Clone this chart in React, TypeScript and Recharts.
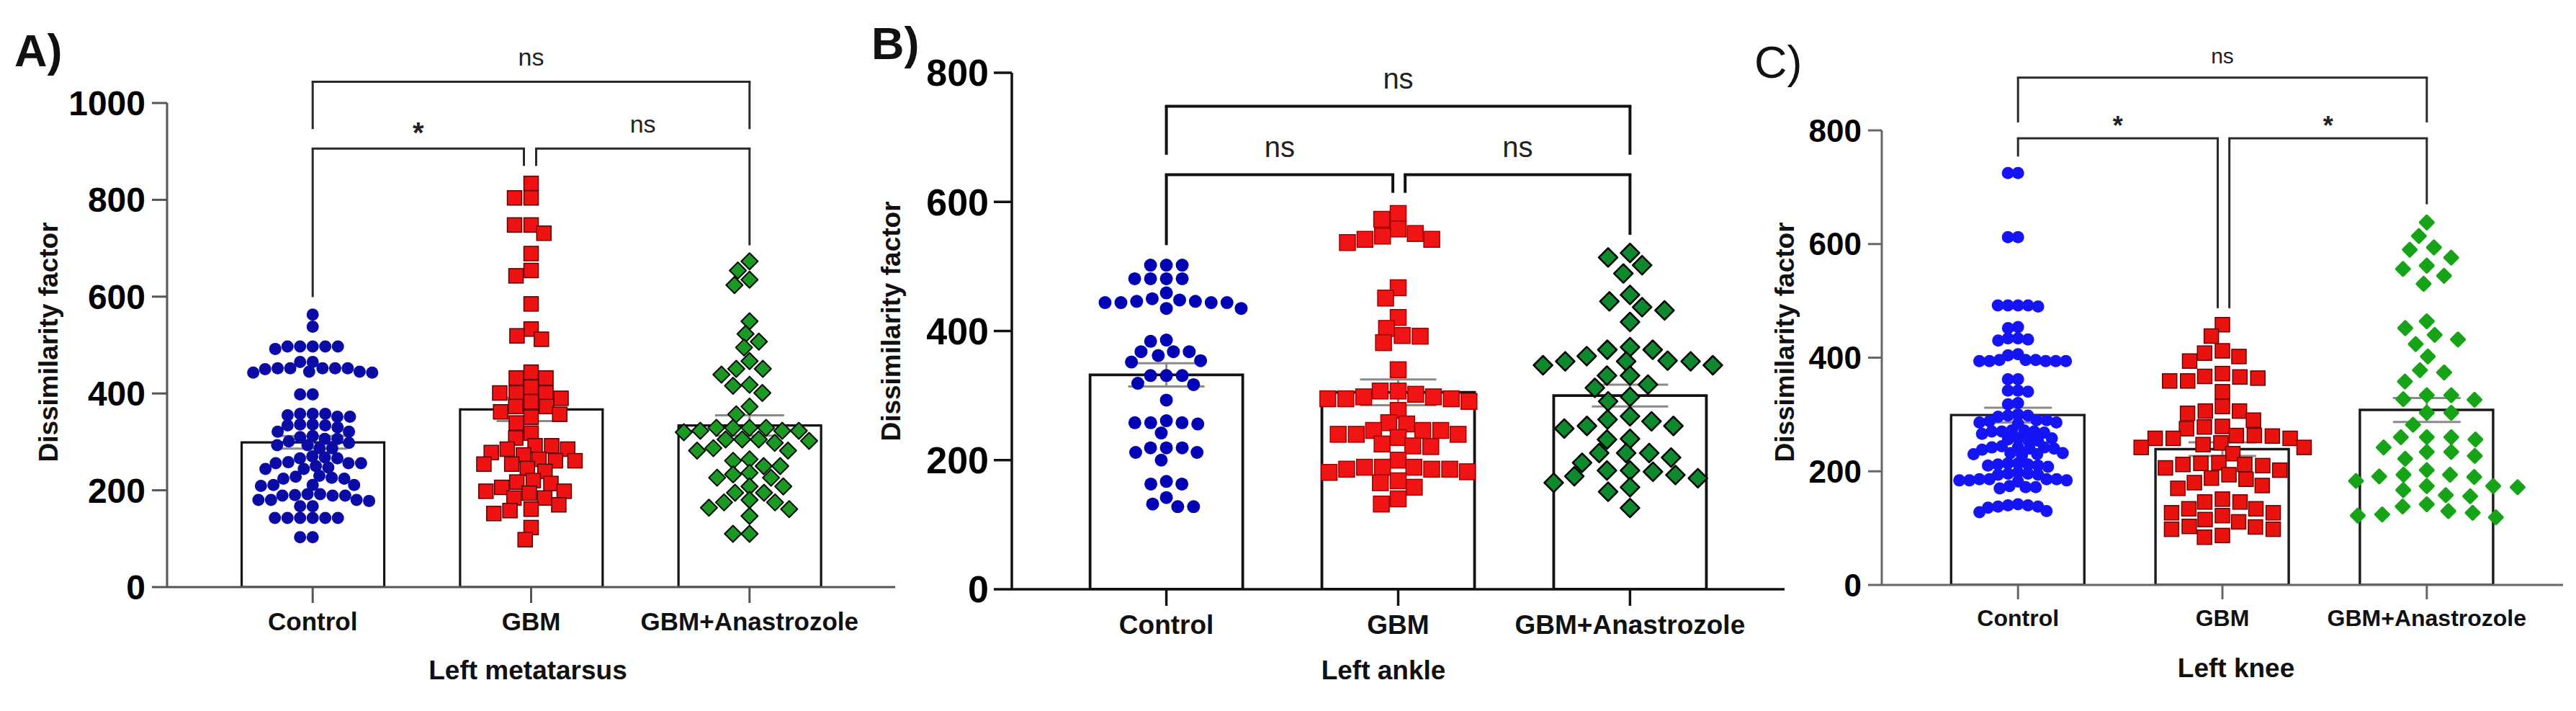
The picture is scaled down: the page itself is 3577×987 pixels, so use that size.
import React from "react"
import { ComposedChart, Bar, Scatter, XAxis, YAxis, ReferenceLine, ErrorBar } from "recharts"

const GROUPS = ["Control", "GBM", "GBM+Anastrozole"]

// A) Left metatarsus
const A_CONTROL = [563, 538, 497, 497, 497, 497, 492, 497, 465, 465, 452, 443, 452, 450, 452, 445, 452, 443, 452, 445, 398, 398, 358, 352, 355, 352, 358, 358, 336, 336, 334, 334, 330, 321, 321, 306, 306, 310, 312, 301, 293, 287, 298, 293, 287, 266, 270, 268, 266, 256, 256, 256, 258, 247, 244, 244, 250, 224, 226, 224, 228, 230, 211, 209, 211, 211, 189, 192, 189, 190, 192, 189, 180, 178, 180, 180, 167, 167, 143, 143, 143, 143, 143, 143, 103, 103]
const A_GBM = [834, 804, 804, 748, 748, 731, 689, 654, 643, 585, 533, 519, 512, 444, 432, 432, 413, 401, 401, 401, 390, 383, 373, 373, 362, 357, 351, 339, 318, 308, 292, 292, 285, 285, 278, 273, 264, 261, 261, 254, 254, 245, 239, 220, 217, 214, 206, 198, 198, 194, 184, 184, 170, 161, 158, 152, 123, 98]
const A_ANA = [673, 654, 635, 624, 549, 523, 507, 495, 467, 451, 451, 439, 418, 416, 401, 373, 357, 329, 329, 323, 323, 329, 323, 329, 320, 305, 305, 302, 305, 298, 287, 282, 282, 264, 261, 250, 250, 236, 233, 226, 226, 208, 208, 195, 195, 180, 175, 175, 164, 161, 147, 110, 110]
const A_MEANS = [299, 367, 334]
const A_SEMS = [13, 24, 21]
const A_TICKS = [0, 200, 400, 600, 800, 1000]

// B) Left ankle
const B_CONTROL = [502, 502, 502, 481, 481, 481, 481, 444, 448, 459, 435, 446, 444, 435, 450, 446, 444, 444, 386, 384, 368, 362, 368, 368, 354, 352, 331, 331, 331, 319, 317, 293, 261, 256, 258, 258, 258, 242, 219, 212, 212, 219, 219, 200, 163, 163, 167, 142, 128, 128, 132]
const B_GBM = [582, 573, 558, 551, 547, 542, 537, 542, 467, 451, 421, 393, 392, 404, 382, 340, 307, 298, 295, 291, 295, 302, 295, 298, 307, 277, 258, 256, 246, 246, 246, 240, 235, 240, 240, 222, 221, 225, 186, 186, 181, 182, 200, 189, 186, 189, 189, 168, 165, 158, 140, 132]
const B_ANA = [521, 514, 502, 489, 456, 446, 432, 437, 414, 371, 375, 371, 353, 347, 353, 353, 361, 347, 354, 331, 331, 317, 312, 298, 291, 268, 260, 263, 253, 253, 249, 233, 232, 211, 211, 211, 196, 204, 175, 182, 184, 184, 165, 172, 177, 158, 151, 126]
const B_MEANS = [332, 305, 300]
const B_SEMS = [18, 20, 17]
const B_TICKS = [0, 200, 400, 600, 800]

// C) Left knee
const C_CONTROL = [725, 725, 612, 612, 492, 492, 492, 492, 490, 454, 452, 434, 432, 430, 434, 406, 404, 396, 394, 394, 396, 394, 394, 396, 394, 362, 362, 342, 342, 340, 320, 318, 300, 298, 298, 296, 290, 290, 288, 286, 286, 284, 272, 270, 270, 268, 270, 272, 266, 258, 256, 255, 258, 254, 244, 242, 240, 242, 240, 238, 242, 232, 230, 228, 232, 230, 214, 212, 210, 210, 208, 212, 214, 198, 196, 194, 196, 194, 186, 186, 184, 186, 184, 186, 184, 182, 174, 172, 172, 170, 142, 140, 138, 138, 140, 136, 130, 128]
const C_GBM = [458, 438, 402, 408, 412, 394, 372, 367, 359, 366, 359, 364, 340, 306, 314, 302, 306, 290, 279, 278, 275, 258, 262, 263, 263, 258, 250, 258, 231, 242, 242, 247, 214, 215, 212, 212, 206, 210, 202, 194, 186, 188, 180, 170, 175, 151, 146, 146, 134, 134, 127, 127, 111, 122, 115, 98, 103, 98, 102, 87, 84]
const C_ANA = [638, 614, 594, 590, 576, 556, 562, 544, 530, 464, 452, 440, 432, 424, 402, 378, 374, 358, 326, 334, 334, 327, 303, 303, 282, 256, 260, 260, 242, 260, 234, 234, 227, 222, 202, 194, 194, 190, 191, 183, 172, 174, 174, 167, 156, 158, 138, 130, 142, 122, 124, 119, 127]
const C_MEANS = [299, 239, 308]
const C_SEMS = [13, 12, 21]
const C_TICKS = [0, 200, 400, 600, 800]

// significance brackets: horizontal from..to at y, legs dropping to dl / dr
const A_BRACKETS = [
  { from: 0, to: 2, y: 1044, dl: 946, dr: 946, text: "ns" },
  { from: 0, to: 0.967, y: 906, dl: 599, dr: 870, text: "*" },
  { from: 1.023, to: 2, y: 906, dl: 870, dr: 706, text: "ns" },
]
const B_BRACKETS = [
  { from: 0, to: 2, y: 748, dl: 673, dr: 673, text: "ns" },
  { from: 0, to: 0.977, y: 642, dl: 533, dr: 614, text: "ns" },
  { from: 1.03, to: 2, y: 642, dl: 614, dr: 549, text: "ns" },
]
const C_BRACKETS = [
  { from: 0, to: 2, y: 893, dl: 814, dr: 814, text: "ns" },
  { from: 0, to: 0.977, y: 786, dl: 754, dr: 487, text: "*" },
  { from: 1.034, to: 2, y: 786, dl: 487, dr: 670, text: "*" },
]

const FONT = "'Liberation Sans', Arial, Helvetica, sans-serif"
const NARROW = "'Liberation Sans Narrow', 'Arial Narrow', 'Liberation Sans', Arial, sans-serif"
const H = 987
const X_MIN = -2 / 3
const X_MAX = 8 / 3

// row-like beeswarm: points keep dx apart sideways, and stop pushing each other once dy apart vertically
function swarm(values: number[], cat: number, pxX: number, pxY: number, gap: number[]) {
  const [gx, gy] = gap
  const order = values.map((_, i) => i).sort((a, b) => values[b] - values[a])
  const placed: { x: number; y: number }[] = []
  const out: { x: number; y: number }[] = new Array(values.length)
  for (const i of order) {
    const y = values[i] * pxY
    const blocks: [number, number][] = []
    for (const p of placed) {
      const dy = Math.abs(p.y - y)
      if (dy < gy) {
        const w = gx * Math.sqrt(1 - (dy / gy) * (dy / gy))
        blocks.push([p.x - w, p.x + w])
      }
    }
    const cands = [0]
    blocks.forEach(([a, b]) => cands.push(a, b))
    cands.sort((a, b) => Math.abs(a) - Math.abs(b))
    let x = 0
    for (const c of cands) {
      if (blocks.every(([a, b]) => c <= a + 1e-6 || c >= b - 1e-6)) {
        x = c
        break
      }
    }
    placed.push({ x, y })
    out[i] = { x: cat + x / pxX, y: values[i] }
  }
  return out
}

const circle = (r: number, fill: string) => (p: any) => <circle cx={p.cx} cy={p.cy} r={r} fill={fill} />
const square = (s: number, fill: string, stroke: string) => (p: any) => (
  <rect x={p.cx - s / 2} y={p.cy - s / 2} width={s} height={s} fill={fill} stroke={stroke} strokeWidth={1.5} />
)
const diamond = (h: number, fill: string, stroke: string, sw: number) => (p: any) => (
  <polygon
    points={`${p.cx},${p.cy - h} ${p.cx + h},${p.cy} ${p.cx},${p.cy + h} ${p.cx - h},${p.cy}`}
    fill={fill}
    stroke={stroke}
    strokeWidth={sw}
    strokeLinejoin="round"
  />
)

const PANELS = [
  {
    letter: "A)", letterX: 20, letterY: 92, letterWeight: "bold",
    left: 0, width: 1250, top: 143, right: 7, yWidth: 232, xHeight: 172, yMax: 1000, yTicks: A_TICKS,
    values: [A_CONTROL, A_GBM, A_ANA], means: A_MEANS, sems: A_SEMS, brackets: A_BRACKETS,
    gaps: [[17.5, 14], [23, 18], [23, 18]],
    shapes: [circle(8.5, "#0b0ba6"), square(20, "#ee1212", "#5a0000"), diamond(11.5, "#1a9a22", "#0a0a0a", 2)],
    axis: "#555", axisW: 3, bar: "#141414", barW: 3.2, barSize: 198, capHalf: 48,
    yTick: 48, yTickSize: 21, yTickMargin: 9, xTick: 35, xTickSize: 22, xTickMargin: 13,
    xTitle: "Left metatarsus", xTitleX: 733, xTitleY: 930, yTitleX: 67, yTitleY: 475,
    brStroke: "#2a2a2a", brW: 3, nsSize: 34, nsOffset: 22, starSize: 40, starOffset: 8,
  },
  {
    letter: "B)", letterX: 1210, letterY: 82, letterWeight: "bold",
    left: 1190, width: 1290, top: 101, right: 2, yWidth: 215, xHeight: 169, yMax: 800, yTicks: B_TICKS,
    values: [B_CONTROL, B_GBM, B_ANA], means: B_MEANS, sems: B_SEMS, brackets: B_BRACKETS,
    gaps: [[22, 18], [25, 20], [32, 20]],
    shapes: [circle(9, "#0000b4"), square(22, "#f01414", "#a00000"), diamond(13, "#0e8a2e", "#000", 2.5)],
    axis: "#111", axisW: 3.5, bar: "#111", barW: 3.8, barSize: 212, capHalf: 53,
    yTick: 52, yTickSize: 25, yTickMargin: 7, xTick: 37, xTickSize: 23, xTickMargin: 13,
    xTitle: "Left ankle", xTitleX: 1921, xTitleY: 930, yTitleX: 1237, yTitleY: 446,
    brStroke: "#111", brW: 4, nsSize: 40, nsOffset: 25, starSize: 40, starOffset: 8,
  },
  {
    letter: "C)", letterX: 2436, letterY: 108, letterWeight: "normal",
    left: 2380, width: 1197, top: 181, right: 18, yWidth: 233, xHeight: 175, yMax: 800, yTicks: C_TICKS,
    values: [C_CONTROL, C_GBM, C_ANA], means: C_MEANS, sems: C_SEMS, brackets: C_BRACKETS,
    gaps: [[14, 12], [25, 20], [34, 20]],
    shapes: [circle(8.5, "#1414f5"), square(20, "#e8120f", "#6b0000"), diamond(9, "#17a317", "#17a317", 4)],
    axis: "#666", axisW: 3, bar: "#1a1a1a", barW: 3.4, barSize: 185, capHalf: 47,
    yTick: 44, yTickSize: 19, yTickMargin: 9, xTick: 32, xTickSize: 20, xTickMargin: 14,
    xTitle: "Left knee", xTitleX: 3105, xTitleY: 927, yTitleX: 2478, yTitleY: 475,
    brStroke: "#2a2a2a", brW: 3, nsSize: 30, nsOffset: 20, starSize: 36, starOffset: 5,
  },
]

function Panel({ cfg }: { cfg: any }) {
  const plotW = cfg.width - cfg.right - cfg.yWidth
  const plotH = H - cfg.top - cfg.xHeight
  const pxX = plotW / (X_MAX - X_MIN)
  const pxY = plotH / cfg.yMax
  // category band padding so that band centres line up with 0, 1, 2 on the numeric axis
  const pad = plotW / 20
  const bars = cfg.means.map((m: number, i: number) => ({ name: GROUPS[i], mean: m }))
  const errs = cfg.means.map((m: number, i: number) => ({ x: i, y: m, sem: cfg.sems[i] }))
  const swarms = cfg.values.map((vals: number[], i: number) => swarm(vals, i, pxX, pxY, cfg.gaps[i]))

  const xTitle = () => (
    <text x={cfg.xTitleX - cfg.left} y={cfg.xTitleY} textAnchor="middle" dominantBaseline="central"
      fontSize={37} fontWeight="bold" fontFamily={FONT} fill="#111">
      {cfg.xTitle}
    </text>
  )
  const yTitle = () => {
    const x = cfg.yTitleX - cfg.left
    return (
      <g>
        <text x={cfg.letterX - cfg.left} y={cfg.letterY} fontSize={63} fontWeight={cfg.letterWeight}
          fontFamily={FONT} fill="#111">
          {cfg.letter}
        </text>
        <text x={x} y={cfg.yTitleY} transform={`rotate(-90 ${x} ${cfg.yTitleY})`} textAnchor="middle"
          dominantBaseline="central" fontSize={37} fontWeight="bold" fontFamily={FONT} fill="#111">
          Dissimilarity factor
        </text>
      </g>
    )
  }

  return (
    <div style={{ position: "absolute", left: cfg.left, top: 0 }}>
      <ComposedChart width={cfg.width} height={H} data={bars}
        margin={{ top: cfg.top, right: cfg.right, bottom: 0, left: 0 }}>
        <XAxis xAxisId="cat" type="category" dataKey="name" padding={{ left: pad, right: pad }} interval={0}
          height={cfg.xHeight}
          axisLine={{ stroke: cfg.axis, strokeWidth: cfg.axisW }}
          tickLine={{ stroke: cfg.axis, strokeWidth: cfg.axisW }}
          tickSize={cfg.xTickSize} tickMargin={cfg.xTickMargin}
          tick={{ fontSize: cfg.xTick, fontWeight: "bold", fontFamily: FONT, fill: "#111" }}
          label={xTitle} />
        <XAxis xAxisId="num" type="number" dataKey="x" domain={[X_MIN, X_MAX]} allowDataOverflow hide />
        <YAxis type="number" domain={[0, cfg.yMax]} allowDataOverflow ticks={cfg.yTicks} interval={0}
          width={cfg.yWidth}
          axisLine={{ stroke: cfg.axis, strokeWidth: cfg.axisW }}
          tickLine={{ stroke: cfg.axis, strokeWidth: cfg.axisW }}
          tickSize={cfg.yTickSize} tickMargin={cfg.yTickMargin}
          tick={{ fontSize: cfg.yTick, fontWeight: "bold", fontFamily: FONT, fill: "#000" }}
          label={yTitle} />
        <Bar xAxisId="cat" dataKey="mean" barSize={cfg.barSize} fill="#fff" stroke={cfg.bar}
          strokeWidth={cfg.barW} isAnimationActive={false} />
        {swarms.map((pts: any[], i: number) => (
          <Scatter key={GROUPS[i]} xAxisId="num" data={pts} dataKey="y" shape={cfg.shapes[i]}
            isAnimationActive={false} />
        ))}
        <Scatter xAxisId="num" data={errs} dataKey="y" shape={() => <g />} isAnimationActive={false}>
          <ErrorBar dataKey="sem" direction="y" width={cfg.capHalf} stroke="#8a8a8a" strokeWidth={3} />
        </Scatter>
        {cfg.brackets.map((b: any, i: number) => {
          const star = b.text === "*"
          return (
            <React.Fragment key={i}>
              <ReferenceLine xAxisId="num" segment={[{ x: b.from, y: b.y }, { x: b.to, y: b.y }]}
                ifOverflow="visible" stroke={cfg.brStroke} strokeWidth={cfg.brW} strokeLinecap="square"
                label={{
                  value: b.text, position: "top", offset: star ? cfg.starOffset : cfg.nsOffset,
                  fontSize: star ? cfg.starSize : cfg.nsSize, fontFamily: star ? FONT : NARROW,
                  fontWeight: star ? "bold" : "normal", fill: "#222",
                }} />
              <ReferenceLine xAxisId="num" segment={[{ x: b.from, y: b.y }, { x: b.from, y: b.dl }]}
                ifOverflow="visible" stroke={cfg.brStroke} strokeWidth={cfg.brW} />
              <ReferenceLine xAxisId="num" segment={[{ x: b.to, y: b.y }, { x: b.to, y: b.dr }]}
                ifOverflow="visible" stroke={cfg.brStroke} strokeWidth={cfg.brW} />
            </React.Fragment>
          )
        })}
      </ComposedChart>
    </div>
  )
}

export default function App() {
  return (
    <div style={{ position: "absolute", left: 0, top: 0, width: 3577, height: H, background: "#fff" }}>
      {PANELS.map((p) => (
        <Panel key={p.letter} cfg={p} />
      ))}
    </div>
  )
}
